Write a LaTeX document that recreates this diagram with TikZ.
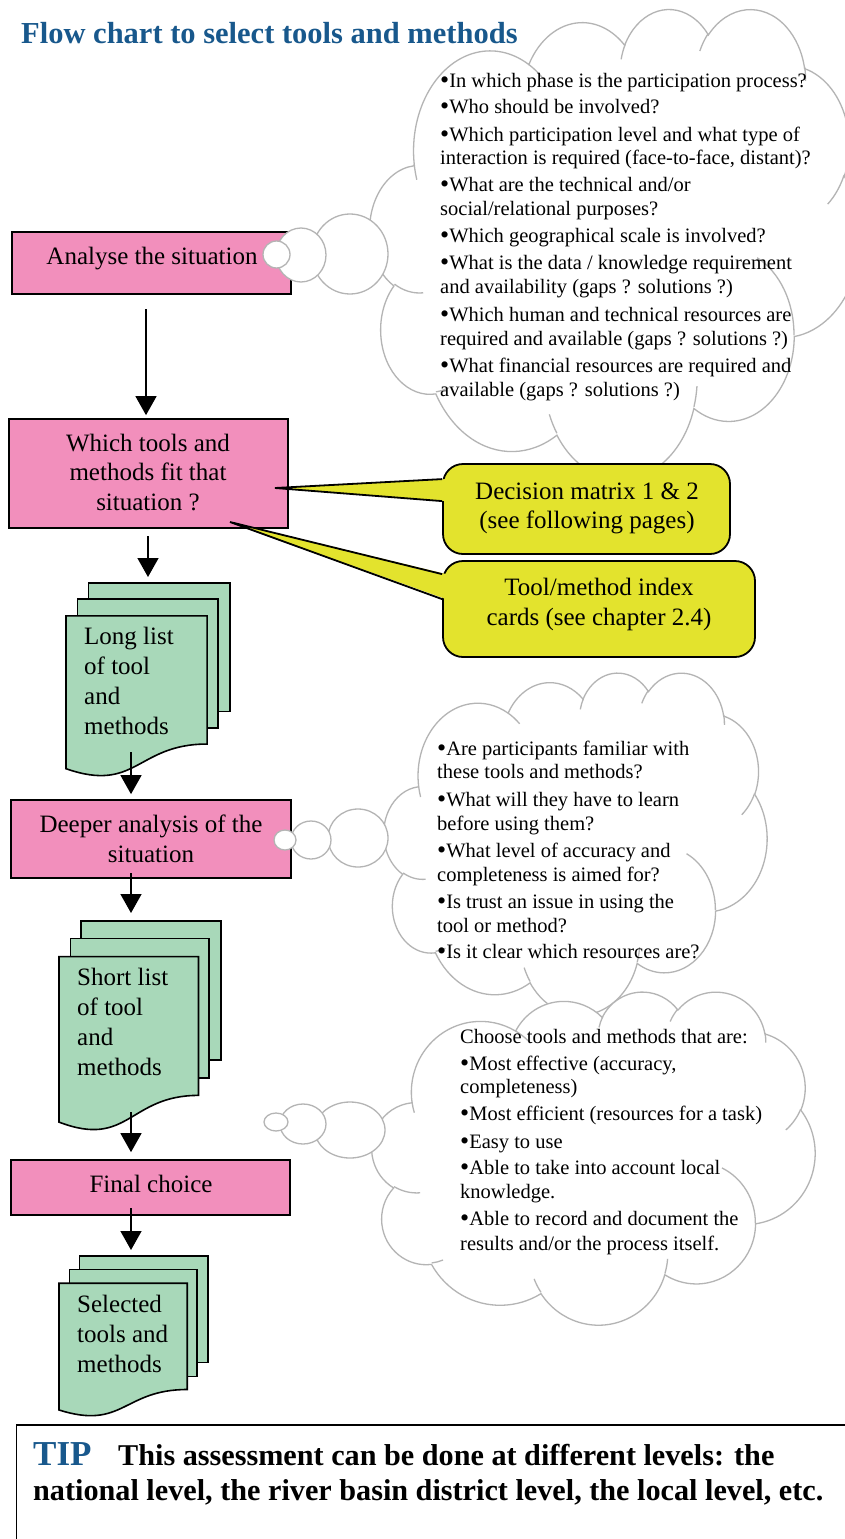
\documentclass[tikz,border=0pt]{standalone}
\usepackage{fontspec}
\setmainfont{Liberation Serif}
\usetikzlibrary{arrows.meta}
\definecolor{pinkc}{RGB}{242,143,188}
\definecolor{greenc}{RGB}{168,216,185}
\definecolor{yellowc}{RGB}{227,227,45}
\definecolor{bluec}{RGB}{24,88,140}
\definecolor{cloudc}{RGB}{180,180,180}
\newcommand\fA{\fontsize{25}{29.5}\selectfont}
\newcommand\fB{\fontsize{20.5}{24}\selectfont}
\newcommand\fT{\fontsize{30.5}{36}\selectfont\bfseries}
\newcommand\bul{\raisebox{-1.6pt}{\fontsize{26}{24}\selectfont •}}
\tikzset{
  cloudline/.style={draw=cloudc, line width=1.3pt},
  boxst/.style={draw=black, line width=1.7pt, fill=pinkc, inner sep=0pt},
  docline/.style={draw=black, line width=1.6pt, fill=greenc},
  callst/.style={draw=black, line width=1.8pt, fill=yellowc, rounded corners=20pt, inner sep=0pt},
  wedgeline/.style={draw=black, line width=1.8pt},
  arr/.style={line width=1.4pt, -{Triangle[length=19pt,width=21pt]}},
  lbl/.style={font=\fA, anchor=base, inner sep=0pt},
  lbll/.style={font=\fA, anchor=base west, inner sep=0pt},
  ctxt/.style={font=\fB, anchor=base west, inner sep=0pt},
  tiptxt/.style={anchor=base west, inner sep=0pt, font=\fontsize{30.2}{34}\selectfont\bfseries},
  bub/.style={cloudline, fill=white}
}
\newcommand\mycloud[4]{%
 \begin{scope}[shift={(#1,-#2)}, xscale=#3, yscale=#4]
  \filldraw[cloudline, fill=white] (39.00,143.70)
   arc[start angle=172.25, delta angle=128.11, x radius=67.53, y radius=91.90]
   arc[start angle=-152.02, delta angle=106.56, x radius=53.33, y radius=72.67]
   arc[start angle=-153.49, delta angle=116.16, x radius=43.65, y radius=59.45]
   arc[start angle=-139.72, delta angle=129.51, x radius=48.57, y radius=65.95]
   arc[start angle=-74.77, delta angle=97.98, x radius=53.33, y radius=72.73]
   arc[start angle=-37.52, delta angle=119.38, x radius=67.75, y radius=92.20]
   arc[start angle=0.46, delta angle=121.52, x radius=57.85, y radius=78.67]
   arc[start angle=16.84, delta angle=129.38, x radius=67.52, y radius=92.15]
   arc[start angle=58.98, delta angle=91.21, x radius=77.20, y radius=105.43]
   arc[start angle=83.31, delta angle=139.79, x radius=43.60, y radius=59.18]
   arc[start angle=120.36, delta angle=143.75, x radius=43.45, y radius=59.45]
   -- cycle;
  \draw[cloudline]
   (46.93,261.77) arc[start angle=85.55, delta angle=34.81, x radius=43.45, y radius=59.45]
   (69.28,348.99) arc[start angle=68.24, delta angle=15.07, x radius=43.60, y radius=59.18]
   (164.78,390.90) arc[start angle=146.22, delta angle=12.25, x radius=67.52, y radius=92.15]
   (288.27,347.51) arc[start angle=4.74, delta angle=12.10, x radius=67.52, y radius=92.15]
   (341.29,229.54) arc[start angle=-64.03, delta angle=64.49, x radius=57.85, y radius=78.67]
   (417.98,153.54) arc[start angle=23.21, delta angle=26.43, x radius=53.33, y radius=72.73]
   (383.24,54.26) arc[start angle=-10.21, delta angle=11.03, x radius=48.57, y radius=65.95]
   (290.78,39.52) arc[start angle=-156.30, delta angle=16.58, x radius=48.57, y radius=65.95]
   (221.41,47.20) arc[start angle=-167.73, delta angle=14.24, x radius=43.65, y radius=59.45]
   (140.00,51.92) arc[start angle=-59.64, delta angle=13.90, x radius=67.53, y radius=91.90]
   (41.27,157.89) arc[start angle=163.20, delta angle=9.05, x radius=67.53, y radius=91.90];
 \end{scope}}
\newcommand\multidocshape[4]{%
 \begin{scope}[shift={(#1,-#2)}, xscale=#3, yscale=#4]
  \filldraw[docline] (29.72,0) rectangle (216,143.92);
  \filldraw[docline] (15.32,18.15) rectangle (200,162.52);
  \filldraw[docline] (0,36.75) -- (185.95,36.75) -- (185.95,180.22)
     .. controls (92.98,180.22) and (92.98,235.42) .. (0,207.82) -- cycle;
 \end{scope}}
\begin{document}
\begin{tikzpicture}[x=1pt,y=1pt]
\useasboundingbox (0,0) rectangle (845,-1539);
\clip (0,0) rectangle (845,-1539);
\fill[white] (0,0) rectangle (845,-1539);

% title
\node[anchor=base west, inner sep=0pt, font=\fT, text=bluec] (title) at (21,-43) {Flow chart to select tools and methods};

% cloud 1
\mycloud{370}{8}{1.13426}{-1.08796}

% boxes
\node[boxst, minimum width=279pt, minimum height=62pt] (b1) at (151.5,-263) {};
\node[boxst, minimum width=279pt, minimum height=109pt] (b2) at (148.5,-473.5) {};
\node[boxst, minimum width=280pt, minimum height=78pt] (b3) at (151,-839) {};
\node[boxst, minimum width=279pt, minimum height=55pt] (b4) at (150.5,-1187.5) {};

% document stacks
\multidocshape{66}{583}{0.75926}{-0.89352}
\multidocshape{59}{921}{0.75}{-0.96759}
\multidocshape{59}{1256}{0.68981}{-0.74074}
\coordinate (d1top) at (148,-583);
\coordinate (d2top) at (131,-921);
\coordinate (d3top) at (131,-1256);

% arrows
\coordinate (a1s) at (146,-309);
\coordinate (a2s) at (148,-536);
\coordinate (a3s) at (131,-752);
\coordinate (a4s) at (131,-873);
\coordinate (a5s) at (131,-1112);
\coordinate (a6s) at (131,-1208);
\draw[arr, shorten >=3pt] (a1s) -- (a1s |- b2.north);
\draw[arr, shorten >=6pt] (a2s) -- (d1top);
\draw[arr, shorten >=5pt] (a3s) -- (a3s |- b3.north);
\draw[arr, shorten >=8pt] (a4s) -- (d2top);
\draw[arr, shorten >=7pt] (a5s) -- (a5s |- b4.north);
\draw[arr, shorten >=6pt] (a6s) -- (d3top);

% bubbles of cloud 1
\filldraw[bub] (350,-254) ellipse [x radius=38, y radius=40];
\filldraw[bub] (301,-255) ellipse [x radius=25, y radius=27];
\filldraw[bub] (276.5,-254.5) ellipse [x radius=13.5, y radius=13.5];

% callouts
\node[callst, minimum width=287pt, minimum height=90pt] (c1) at (586.5,-509) {};
\node[callst, minimum width=312pt, minimum height=96pt] (c2) at (599,-609) {};
\coordinate (w1) at (275,-488);
\coordinate (w2) at (230,-522);
\fill[yellowc] ([xshift=4pt,yshift=-16pt]c1.north west) -- (w1) -- ([xshift=4pt,yshift=-38pt]c1.north west) -- cycle;
\draw[wedgeline] ([yshift=-16pt]c1.north west) -- (w1) -- ([yshift=-38pt]c1.north west);
\fill[yellowc] ([xshift=4pt,yshift=-14pt]c2.north west) -- (w2) -- ([xshift=4pt,yshift=-39pt]c2.north west) -- cycle;
\draw[wedgeline] ([yshift=-14pt]c2.north west) -- (w2) -- ([yshift=-39pt]c2.north west);
\node[lbl] (c1a) at (587,-499) {Decision matrix 1 \& 2};
\node[lbl] (c1b) at (587,-528) {(see following pages)};
\node[lbl] (c2a) at (599,-595) {Tool/method index};
\node[lbl] (c2b) at (599,-625) {cards (see chapter 2.4)};

% cloud 2 and 3
\mycloud{384}{672}{0.88657}{-0.79167}
\filldraw[bub] (358,-838) ellipse [x radius=30, y radius=29];
\filldraw[bub] (311,-840) ellipse [x radius=20, y radius=19];
\filldraw[bub] (285,-840) ellipse [x radius=11, y radius=10];
\mycloud{372}{991}{1.02546}{-0.77083}
\filldraw[bub] (350,-1130) ellipse [x radius=35, y radius=28];
\filldraw[bub] (303,-1124) ellipse [x radius=23, y radius=20];
\filldraw[bub] (276,-1122) ellipse [x radius=12, y radius=9];

% box texts
\node[lbl] (b1t) at (152,-264) {Analyse the situation};
\node[lbl] (b2a) at (148,-451) {Which tools and};
\node[lbl] (b2b) at (148,-480) {methods fit that};
\node[lbl] (b2c) at (148,-510) {situation ?};
\node[lbl] (b3a) at (151,-832) {Deeper analysis of the};
\node[lbl] (b3b) at (151,-862) {situation};
\node[lbl] (b4t) at (151,-1192) {Final choice};

% doc texts
\node[lbll] (d1a) at (84,-644) {Long list};
\node[lbll] (d1b) at (84,-674) {of tool};
\node[lbll] (d1c) at (84,-704) {and};
\node[lbll] (d1d) at (84,-734) {methods};
\node[lbll] (d2a) at (77,-985) {Short list};
\node[lbll] (d2b) at (77,-1015) {of tool};
\node[lbll] (d2c) at (77,-1045) {and};
\node[lbll] (d2d) at (77,-1075) {methods};
\node[lbll] (d3a) at (77,-1312) {Selected};
\node[lbll] (d3b) at (77,-1342) {tools and};
\node[lbll] (d3c) at (77,-1372) {methods};

% cloud 1 text
\node[ctxt] (k1a) at (440,-87) {\bul In which phase is the participation process?};
\node[ctxt] (k1b) at (440,-113) {\bul Who should be involved?};
\node[ctxt] (k1c) at (440,-141) {\bul Which participation level and what type of};
\node[ctxt] (k1d) at (440,-164) {interaction is required (face-to-face, distant)?};
\node[ctxt] (k1e) at (440,-191) {\bul What are the technical and/or};
\node[ctxt] (k1f) at (440,-215) {social/relational purposes?};
\node[ctxt] (k1g) at (440,-242) {\bul Which geographical scale is involved?};
\node[ctxt] (k1h) at (440,-269) {\bul What is the data / knowledge requirement};
\node[ctxt] (k1i) at (440,-293) {and availability (gaps ? solutions ?)};
\node[ctxt] (k1j) at (440,-321) {\bul Which human and technical resources are};
\node[ctxt] (k1k) at (440,-345) {required and available (gaps ? solutions ?)};
\node[ctxt] (k1l) at (440,-372) {\bul What financial resources are required and};
\node[ctxt] (k1m) at (440,-396) {available (gaps ? solutions ?)};

% cloud 2 text
\node[ctxt] (k2a) at (437,-755) {\bul Are participants familiar with};
\node[ctxt] (k2b) at (437,-778) {these tools and methods?};
\node[ctxt] (k2c) at (437,-806) {\bul What will they have to learn};
\node[ctxt] (k2d) at (437,-830) {before using them?};
\node[ctxt] (k2e) at (437,-857) {\bul What level of accuracy and};
\node[ctxt] (k2f) at (437,-881) {completeness is aimed for?};
\node[ctxt] (k2g) at (437,-908) {\bul Is trust an issue in using the};
\node[ctxt] (k2h) at (437,-932) {tool or method?};
\node[ctxt] (k2i) at (437,-958) {\bul Is it clear which resources are?};

% cloud 3 text
\node[ctxt] (k3a) at (460,-1043) {Choose tools and methods that are:};
\node[ctxt] (k3b) at (460,-1070) {\bul Most effective (accuracy,};
\node[ctxt] (k3c) at (460,-1093) {completeness)};
\node[ctxt] (k3d) at (460,-1120) {\bul Most efficient (resources for a task)};
\node[ctxt] (k3e) at (460,-1148) {\bul Easy to use};
\node[ctxt] (k3f) at (460,-1174) {\bul Able to take into account local};
\node[ctxt] (k3g) at (460,-1198) {knowledge.};
\node[ctxt] (k3h) at (460,-1225) {\bul Able to record and document the};
\node[ctxt] (k3i) at (460,-1250) {results and/or the process itself.};

% TIP box
\draw[line width=1.8pt] (16.5,-1425) rectangle (880,-1580);
\node[anchor=base west, inner sep=0pt, font=\fontsize{35}{40}\selectfont\bfseries, text=bluec] (tip) at (33,-1465) {TIP};
\node[tiptxt] (tip1) at (118,-1465) {This assessment can be done at different levels: the};
\node[tiptxt] (tip2) at (33,-1500) {national level, the river basin district level, the local level, etc.};
\end{tikzpicture}
\end{document}
